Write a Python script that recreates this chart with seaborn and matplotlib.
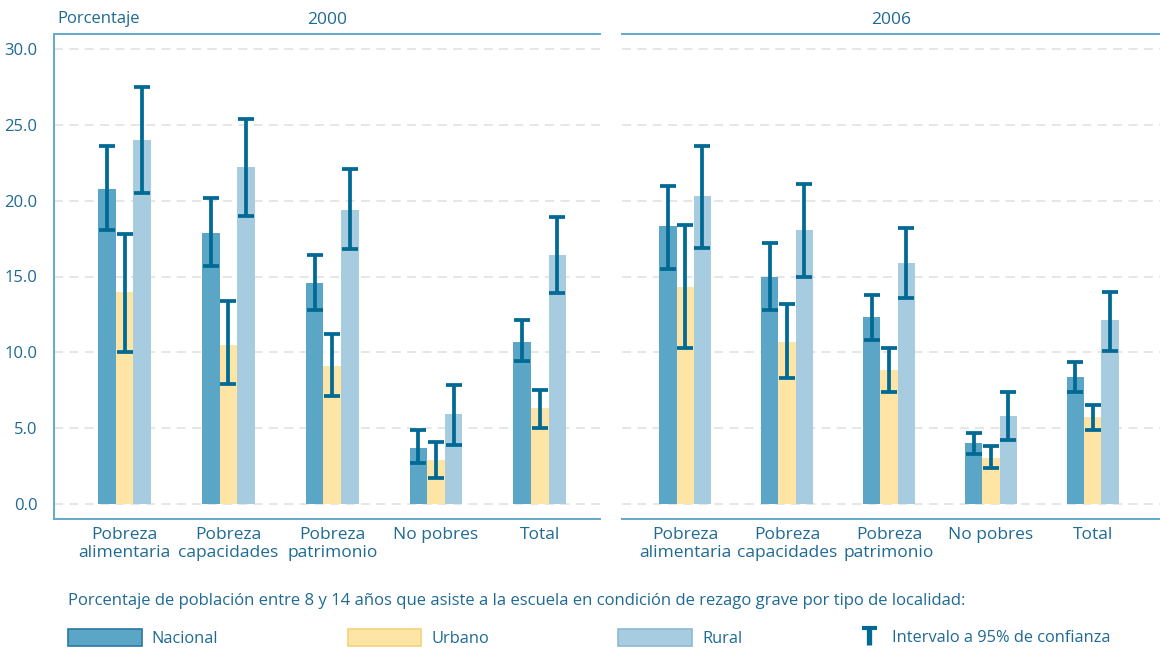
import matplotlib
matplotlib.use('Agg')
import matplotlib.pyplot as plt
import seaborn as sns
import pandas as pd
from matplotlib.patches import Patch
from matplotlib.lines import Line2D
from matplotlib.legend_handler import HandlerBase

# Datos
categorias = ['Pobreza\nalimentaria', 'Pobreza\ncapacidades', 'Pobreza\npatrimonio', 'No pobres', 'Total']
tipos = ['Nacional', 'Urbano', 'Rural']
anios = ['2000', '2006']

valores = {
    '2000': {
        'Nacional': [20.8, 17.9, 14.6, 3.7, 10.7],
        'Urbano':   [14.0, 10.5, 9.1, 2.9, 6.3],
        'Rural':    [24.0, 22.2, 19.4, 5.9, 16.4],
    },
    '2006': {
        'Nacional': [18.3, 15.0, 12.3, 4.0, 8.4],
        'Urbano':   [14.3, 10.7, 8.8, 3.0, 5.7],
        'Rural':    [20.3, 18.1, 15.9, 5.8, 12.1],
    },
}
ic_inf = {
    '2000': {
        'Nacional': [18.1, 15.7, 12.8, 2.7, 9.4],
        'Urbano':   [10.0, 7.9, 7.1, 1.7, 5.0],
        'Rural':    [20.5, 19.0, 16.8, 3.9, 13.9],
    },
    '2006': {
        'Nacional': [15.5, 12.8, 10.8, 3.3, 7.4],
        'Urbano':   [10.3, 8.3, 7.4, 2.35, 4.9],
        'Rural':    [16.9, 15.0, 13.6, 4.2, 10.1],
    },
}
ic_sup = {
    '2000': {
        'Nacional': [23.6, 20.2, 16.4, 4.9, 12.1],
        'Urbano':   [17.8, 13.4, 11.2, 4.1, 7.5],
        'Rural':    [27.5, 25.4, 22.1, 7.85, 18.9],
    },
    '2006': {
        'Nacional': [21.0, 17.2, 13.8, 4.7, 9.35],
        'Urbano':   [18.4, 13.2, 10.3, 3.8, 6.55],
        'Rural':    [23.6, 21.1, 18.2, 7.35, 14.0],
    },
}
yticks = [0, 5, 10, 15, 20, 25, 30]

rows = []
for a in anios:
    for t in tipos:
        for i, c in enumerate(categorias):
            rows.append({'Año': a, 'Tipo': t, 'Categoría': c,
                         'Valor': valores[a][t][i],
                         'Inf': ic_inf[a][t][i], 'Sup': ic_sup[a][t][i]})
df = pd.DataFrame(rows)

# Estilo
sns.set_theme(style='white')
plt.rcParams['font.family'] = ['Open Sans', 'DejaVu Sans']
TEXTO = '#1f6a93'
EJE = '#62a9cb'
ERR = '#006994'
colores = {'Nacional': '#5ba5c6', 'Urbano': '#fee5a6', 'Rural': '#a7cbdf'}
bordes = {'Nacional': '#2a78a0', 'Urbano': '#f3d27a', 'Rural': '#8cbad5'}

fig = plt.figure(figsize=(11.6, 6.52), dpi=100)
ax1 = fig.add_axes([54 / 1160, 1 - 519 / 652, 546 / 1160, 485 / 652])
ax2 = fig.add_axes([622 / 1160, 1 - 519 / 652, 538 / 1160, 485 / 652])

for ax, a, xl in [(ax1, '2000', (-0.68, 4.58)), (ax2, '2006', (-0.62, 4.66))]:
    d = df[df['Año'] == a]
    sns.barplot(data=d, x='Categoría', y='Valor', hue='Tipo', order=categorias,
                hue_order=tipos, palette=colores, width=0.51, gap=0,
                saturation=1, linewidth=0, errorbar=None, legend=False, ax=ax)
    # intervalos de confianza
    for cont, t in zip(ax.containers, tipos):
        sub = d[d['Tipo'] == t].set_index('Categoría').loc[categorias]
        xs = [b.get_x() + b.get_width() / 2 for b in cont]
        v = sub['Valor'].values
        ax.errorbar(xs, v, yerr=[v - sub['Inf'].values, sub['Sup'].values - v],
                    fmt='none', ecolor=ERR, elinewidth=2.7, capsize=5.6,
                    capthick=2.7, zorder=5)
    ax.set_xlim(*xl)
    ax.set_ylim(-1, 31)
    ax.set_yticks(yticks)
    ax.yaxis.grid(True, linestyle=(0, (5, 3.5)), color='#e4e4e4', linewidth=1.3)
    ax.set_axisbelow(True)
    ax.set_xlabel('')
    ax.set_ylabel('')
    ax.tick_params(axis='x', length=0, labelsize=12.5, labelcolor=TEXTO, pad=6)
    for lbl in ax.get_xticklabels():
        lbl.set_linespacing(1.12)
    ax.set_title(a, color=TEXTO, fontsize=12.5, pad=7)
    ax.spines['right'].set_visible(False)
    for s in ['top', 'bottom', 'left']:
        ax.spines[s].set_color(EJE)
        ax.spines[s].set_linewidth(1.4)

ax1.set_yticklabels([f'{y:.1f}' for y in yticks])
ax1.tick_params(axis='y', length=8, width=1.4, color=EJE, labelsize=12,
                labelcolor=TEXTO, pad=4)
ax2.spines['left'].set_visible(False)
ax2.tick_params(axis='y', left=False, labelleft=False)

fig.text(57 / 1160, 1 - 19 / 652, 'Porcentaje', color=TEXTO, fontsize=12,
         va='center', ha='left')

# Leyenda
fig.text(68 / 1160, 1 - 601 / 652,
         'Porcentaje de población entre 8 y 14 años que asiste a la escuela en condición de rezago grave por tipo de localidad:',
         color=TEXTO, fontsize=12, va='center', ha='left')

handles = [Patch(facecolor=colores[t], edgecolor=bordes[t], linewidth=1.2) for t in tipos]
leg = fig.legend(handles, tipos, loc='center left', bbox_to_anchor=(68 / 1160, 1 - 638 / 652),
                 ncol=3, frameon=False, fontsize=11.8, handlelength=4.5, handleheight=1.2,
                 handletextpad=0.6, columnspacing=7.9, borderpad=0, borderaxespad=0)
for txt in leg.get_texts():
    txt.set_color(TEXTO)


class HandlerT(HandlerBase):
    def create_artists(self, legend, orig, xd, yd, w, h, fontsize, trans):
        cx = xd + w / 2
        stem = Line2D([cx, cx], [yd - 0.3 * h, yd + 1.25 * h], color=ERR, lw=3.8,
                      transform=trans, solid_capstyle='butt')
        cap = Line2D([cx - 5.5, cx + 5.5], [yd + 1.2 * h, yd + 1.2 * h], color=ERR, lw=3.0,
                     transform=trans, solid_capstyle='butt')
        return [stem, cap]


leg2 = fig.legend([Line2D([], [])], ['Intervalo a 95% de confianza'], loc='center left',
                  bbox_to_anchor=(861 / 1160, 1 - 638 / 652), frameon=False, fontsize=11.8,
                  handlelength=1.0, handletextpad=0.9, borderpad=0, borderaxespad=0,
                  handler_map={Line2D: HandlerT()})
for txt in leg2.get_texts():
    txt.set_color(TEXTO)

fig.savefig('out.png', dpi=100)
